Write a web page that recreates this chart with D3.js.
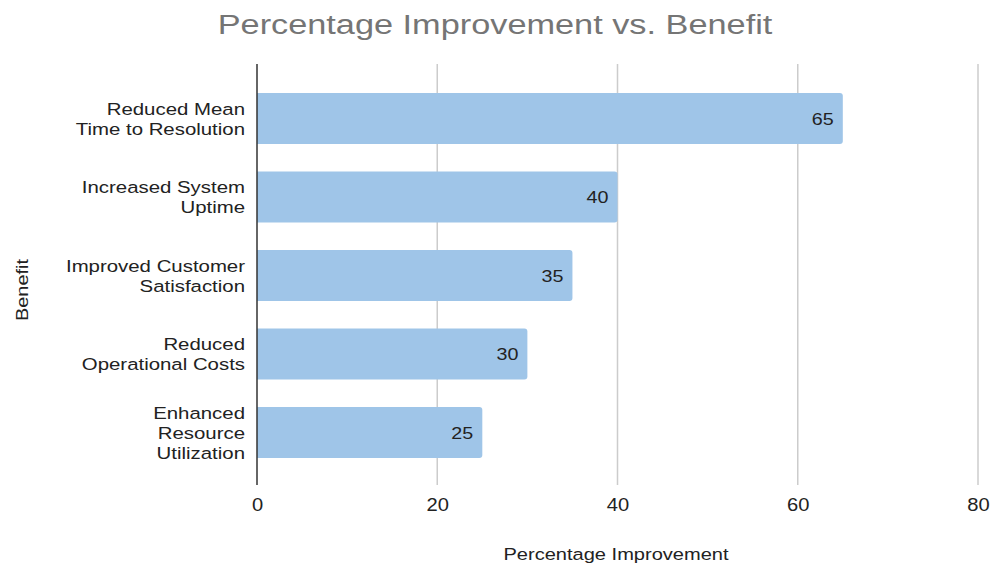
<!DOCTYPE html>
<html><head><meta charset="utf-8">
<script src="https://cdn.jsdelivr.net/npm/d3@7"></script>
<style>body{margin:0;background:#fff}svg{display:block}text{font-family:"Liberation Sans",Arial,sans-serif}</style>
</head><body><svg id="c" width="990" height="565"></svg>
<script>
const categories = [["Reduced Mean","Time to Resolution"],["Increased System","Uptime"],["Improved Customer","Satisfaction"],["Reduced","Operational Costs"],["Enhanced","Resource","Utilization"]];
const values = [65, 40, 35, 30, 25];
const xTicks = [0, 20, 40, 60, 80];
const title = "Percentage Improvement vs. Benefit";
const xTitle = "Percentage Improvement";
const yTitle = "Benefit";

const svg = d3.select("#c");
const ids = d3.range(values.length);
const x = d3.scaleLinear().domain([0, 80]).range([257, 978]);
const y = d3.scaleBand().domain(ids).range([79.3, 471.8]).paddingInner(0.35).paddingOuter(0.175);
const plotTop = 64, plotBottom = 485;

svg.append("text").attr("transform", "translate(495,34) scale(1.27,1)").attr("text-anchor", "middle")
  .attr("font-size", 27).attr("fill", "#757575").text(title);

// gridlines
svg.append("g").selectAll("line").data(xTicks.filter(d => d !== 0)).join("line")
  .attr("x1", d => x(d)).attr("x2", d => x(d)).attr("y1", plotTop).attr("y2", plotBottom)
  .attr("stroke", "#cccccc").attr("stroke-width", 1.5);

// bars with rounded right corners
const r = 3;
svg.append("g").selectAll("path").data(ids).join("path")
  .attr("d", i => {
    const x0 = x(0), x1 = x(values[i]), y0 = y(i), h = y.bandwidth();
    return `M${x0},${y0}H${x1 - r}Q${x1},${y0} ${x1},${y0 + r}V${y0 + h - r}Q${x1},${y0 + h} ${x1 - r},${y0 + h}H${x0}Z`;
  })
  .attr("fill", "#9fc5e8");

// zero line
svg.append("line").attr("x1", x(0)).attr("x2", x(0)).attr("y1", plotTop).attr("y2", plotBottom)
  .attr("stroke", "#333").attr("stroke-width", 1.5);

// value labels
svg.append("g").selectAll("text").data(ids).join("text")
  .attr("transform", i => `translate(${x(values[i]) - 9},${y(i) + y.bandwidth() / 2 + 6}) scale(1.16,1)`)
  .attr("text-anchor", "end").attr("font-size", 17).attr("fill", "#222").text(i => values[i]);

// category labels
const lh = 20;
svg.append("g").selectAll("text").data(ids).join("text")
  .attr("text-anchor", "end").attr("font-size", 17).attr("fill", "#222")
  .attr("transform", i => `translate(245,${y(i) + y.bandwidth() / 2}) scale(1.2,1)`)
  .each(function(i) {
    const lines = categories[i];
    const start = -(lines.length - 1) * lh / 2 + 6;
    d3.select(this).selectAll("tspan").data(lines).join("tspan")
      .attr("x", 0).attr("y", (d, k) => start + k * lh).text(d => d);
  });

// x axis tick labels
const xa = svg.append("g").attr("transform", `translate(0,${plotBottom})`)
  .call(d3.axisBottom(x).tickValues(xTicks).tickSize(0));
xa.select(".domain").remove();
xa.selectAll("text").attr("y", 26).attr("dy", 0).attr("transform", "scale(1.12,1)")
  .attr("font-size", 18).attr("fill", "#222").attr("font-family", "Liberation Sans, Arial, sans-serif");

svg.append("text").attr("transform", "translate(616,560) scale(1.18,1)").attr("text-anchor", "middle")
  .attr("font-size", 17).attr("fill", "#222").text(xTitle);
svg.append("text").attr("transform", "translate(28,290) rotate(-90) scale(1.17,1)").attr("text-anchor", "middle")
  .attr("font-size", 17).attr("fill", "#222").text(yTitle);
</script></body></html>
